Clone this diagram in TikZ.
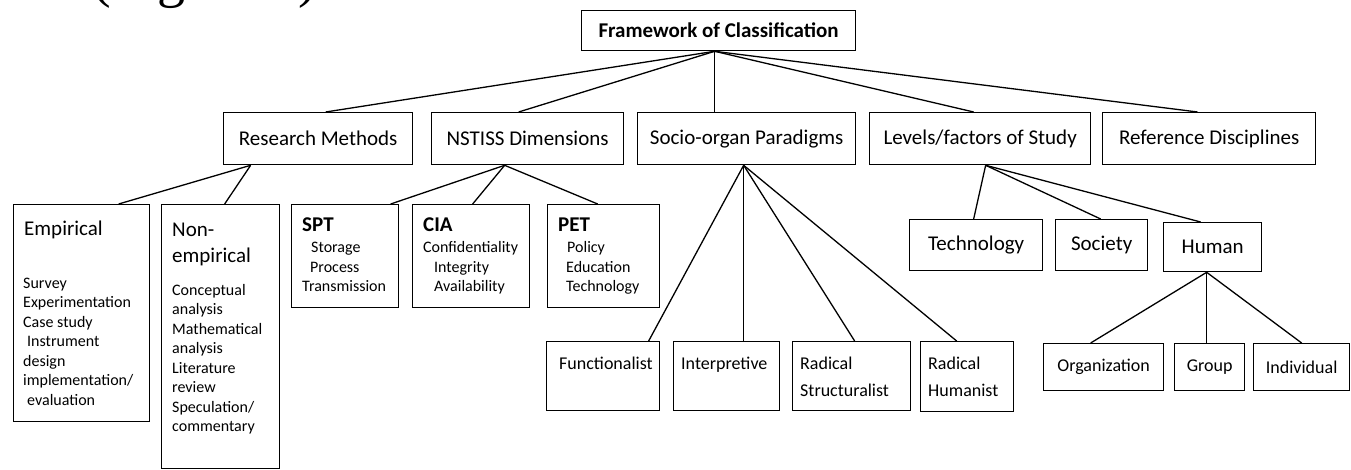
\documentclass[tikz,border=0pt]{standalone}
\usepackage{fontspec}
\setmainfont{Carlito}
\newfontfamily\serifpart[Ligatures=NoCommon]{Liberation Serif}
\usetikzlibrary{calc}
\newcommand\labf{\fontsize{21}{26}\selectfont}
\newcommand\smlf{\fontsize{16}{19.5}\selectfont}
\newcommand\medf{\fontsize{18}{27}\selectfont}
\tikzset{
  box/.style={draw, line width=1.3pt, inner sep=0pt, anchor=north west},
  txt/.style={inner sep=0pt, align=left},
  link/.style={line width=1.3pt},
}
\begin{document}
\begin{tikzpicture}[x=1pt, y=-1pt]
\useasboundingbox (0,0) rectangle (1351,470);
% cut-off text at the top (only its descenders show)
\node[inner sep=0pt, outer sep=0pt, anchor=base west, font=\serifpart\fontsize{56}{60}\selectfont] (frag) at (92,-3.5) {(Figure 1)};
% level 0
\node[box, font=\labf\bfseries, minimum width=274pt, minimum height=40pt] (fw) at (581,10) {Framework of Classification};
% level 1
\node[box, font=\labf, minimum width=189pt, minimum height=52pt] (rm) at (223,112) {Research Methods};
\node[box, font=\labf, minimum width=192pt, minimum height=52pt] (ns) at (431,112) {NSTISS Dimensions};
\node[box, font=\labf, minimum width=218pt, minimum height=52pt] (so) at (637,112) {Socio-organ Paradigms};
\node[box, font=\labf, minimum width=221pt, minimum height=52pt] (lv) at (869,112) {Levels/factors of Study};
\node[box, font=\labf, minimum width=213pt, minimum height=52pt] (rd) at (1102,112) {Reference Disciplines};
% level 2
\node[box, minimum width=136pt, minimum height=217pt] (emp) at (13,204) {};
\node[box, minimum width=118pt, minimum height=264pt] (nem) at (161,204) {};
\node[box, minimum width=107pt, minimum height=103pt] (spt) at (291,204) {};
\node[box, minimum width=117pt, minimum height=103pt] (cia) at (412,204) {};
\node[box, minimum width=112pt, minimum height=103pt] (pet) at (547,204) {};
\node[box, font=\labf, minimum width=133pt, minimum height=51pt] (tech) at (909,219) {Technology};
\node[box, font=\labf, minimum width=92pt, minimum height=51pt] (soc) at (1055,219) {Society};
\node[box, font=\labf, minimum width=98pt, minimum height=49pt] (hum) at (1163,222) {Human\hspace{14pt}};
% level 3
\node[box, minimum width=113pt, minimum height=69pt] (fun) at (546,341) {};
\node[box, minimum width=106pt, minimum height=69pt] (int) at (673,341) {};
\node[box, minimum width=118pt, minimum height=69pt] (rst) at (792,341) {};
\node[box, minimum width=93pt, minimum height=70pt] (rhu) at (920,341) {};
\node[box, font=\medf, minimum width=120pt, minimum height=47pt] (org) at (1043,343) {Organization};
\node[box, font=\medf, minimum width=70pt, minimum height=47pt] (grp) at (1174,343) {Group};
\node[box, font=\medf, minimum width=96pt, minimum height=47pt] (ind) at (1253,343) {Individual};
% texts inside boxes
\node[txt, font=\labf, anchor=base west] (empT) at (24,236) {Empirical};
\node[txt, font=\smlf, anchor=north west] (empL) at (23,274.35) {\strut Survey\\Experimentation\\Case study\\\hspace{4pt}Instrument\\design\\implementation/\\\hspace{4pt}evaluation};
\node[txt, font=\labf, anchor=north west] (nemT) at (172,217.8) {\strut Non-\\empirical};
\node[txt, font=\smlf, anchor=north west] (nemL) at (172,281.35) {\strut Conceptual\\analysis\\Mathematical\\analysis\\Literature\\review\\Speculation/\\commentary};
\node[txt, font=\labf\bfseries, anchor=base west] (sptT) at (302,232) {SPT};
\node[txt, font=\smlf, anchor=north west] (sptL) at (302,238.85) {\strut\hspace{9pt}Storage\\\hspace{8pt}Process\\Transmission};
\node[txt, font=\labf\bfseries, anchor=base west] (ciaT) at (423,232) {CIA};
\node[txt, font=\smlf, anchor=north west] (ciaL) at (423,238.85) {\strut Confidentiality\\\hspace{11pt}Integrity\\\hspace{11pt}Availability};
\node[txt, font=\labf\bfseries, anchor=base west] (petT) at (558,232) {PET};
\node[txt, font=\smlf, anchor=north west] (petL) at (566,238.85) {\strut\hspace{1pt}Policy\\Education\\Technology};
\node[txt, font=\medf, anchor=base west] (funT) at (559,369) {Functionalist};
\node[txt, font=\medf, anchor=base west] (intT) at (681,369) {Interpretive};
\node[txt, font=\medf, anchor=north west] (rstT) at (800,350.1) {\strut Radical\\Structuralist};
\node[txt, font=\medf, anchor=north west] (rhuT) at (928,350.1) {\strut Radical\\Humanist};
% connectors
\coordinate (fwB) at ($(fw.south)+(-4,0)$);
\draw[link] (fwB) -- ($(rm.north)+(7.5,0)$);
\draw[link] (fwB) -- ($(ns.north)+(-9,0)$);
\draw[link] (fwB) -- ($(so.north)+(-32,0)$);
\draw[link] (fwB) -- ($(lv.north)+(-6.5,0)$);
\draw[link] (fwB) -- ($(rd.north)+(-11.5,0)$);
\coordinate (rmB) at ($(rm.south)+(-67.5,0)$);
\draw[link] (rmB) -- ($(emp.north)+(37,0)$);
\draw[link] (rmB) -- ($(nem.north)+(4,0)$);
\coordinate (nsB) at ($(ns.south)+(-23,0)$);
\draw[link] (nsB) -- ($(spt.north)+(45.5,0)$);
\draw[link] (nsB) -- ($(cia.north)+(1.5,0)$);
\draw[link] (nsB) -- ($(pet.north)+(-6,0)$);
\coordinate (soB) at ($(so.south)+(-3,0)$);
\draw[link] (soB) -- ($(fun.north)+(45.5,0)$);
\draw[link] (soB) -- ($(int.north)+(17,0)$);
\draw[link] (soB) -- ($(rst.north)+(3,0)$);
\draw[link] (soB) -- ($(rhu.north)+(-10.5,0)$);
\coordinate (lvB) at ($(lv.south)+(5.5,0)$);
\draw[link] (lvB) -- ($(tech.north)+(-2.5,0)$);
\draw[link] (lvB) -- ($(soc.north)+(-1,0)$);
\draw[link] (lvB) -- ($(hum.north)+(-12,0)$);
\coordinate (humB) at ($(hum.south)+(-6,0)$);
\draw[link] (humB) -- ($(org.north)+(-13,0)$);
\draw[link] (humB) -- ($(grp.north)+(-3,0)$);
\draw[link] (humB) -- (ind.north);
\end{tikzpicture}
\end{document}
